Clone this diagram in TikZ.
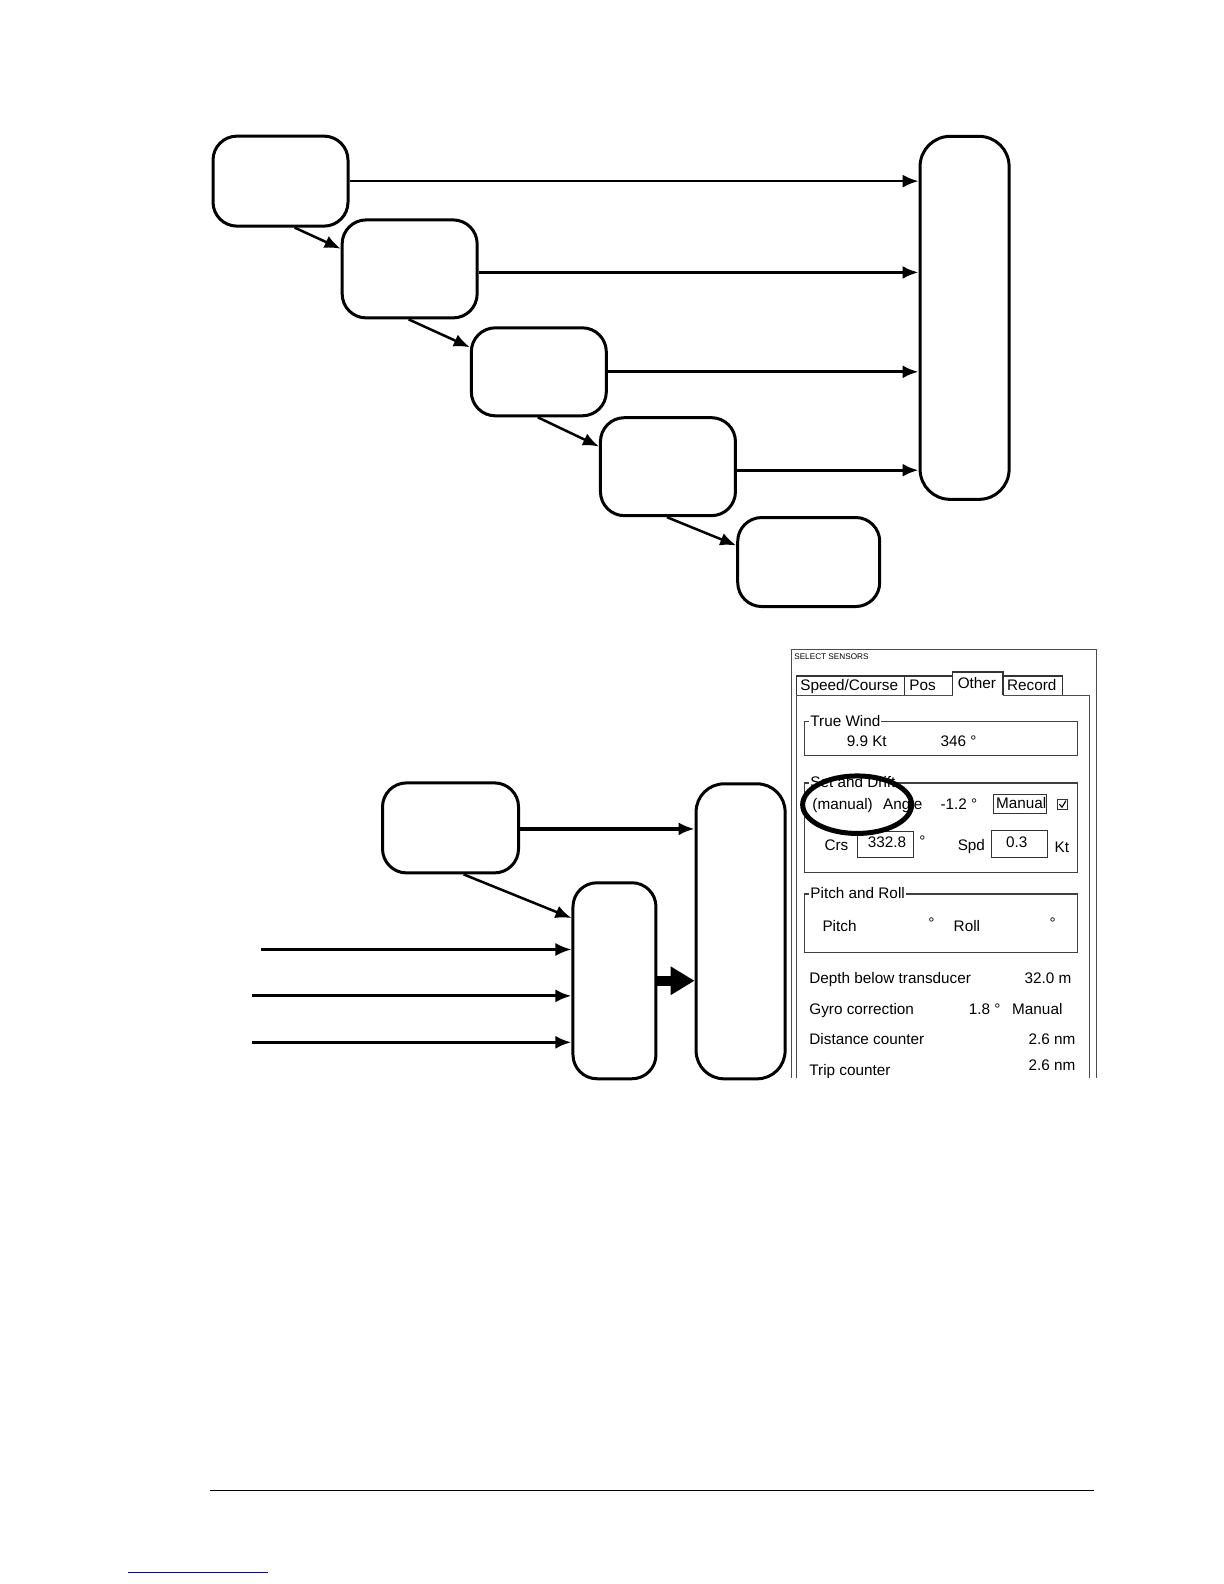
\documentclass[tikz,border=0pt]{standalone}
\usepackage{fontspec}
\newfontfamily\pf{Liberation Sans}
\usetikzlibrary{arrows.meta,calc}
\tikzset{
  rbox/.style={draw, line width=3pt, rounded corners=24pt, inner sep=0pt},
  arr/.style={line width=3.2pt, -{Latex[length=16pt,width=13pt]}},
  thinarr/.style={line width=2.5pt, -{Latex[length=16pt,width=13pt]}},
  bigarr/.style={line width=10pt, -{Triangle[length=24pt,width=27pt]}},
  ptxt/.style={font=\pf\fontsize{15.3}{18}\selectfont, inner sep=0pt, anchor=base west},
  ptxtr/.style={font=\pf\fontsize{15.3}{18}\selectfont, inner sep=0pt, anchor=base east},
  grp/.style={draw=black!75, line width=1.2pt},
  glabel/.style={font=\pf\fontsize{15.3}{18}\selectfont, inner sep=1pt, fill=white, anchor=base west},
  fld/.style={draw=black!80, line width=1.1pt},
}
\begin{document}
\begin{tikzpicture}[x=1.009pt,y=-1.009pt]
\useasboundingbox (0,0) rectangle (1213.08,1569.87);
\fill[white] (0,0) rectangle (1213.08,1569.87);

% ---------- upper chain ----------
\node[rbox, minimum width=135pt, minimum height=90pt] (b1) at (278,179.5) {};
\node[rbox, minimum width=135pt, minimum height=98pt] (b2) at (406,266.5) {};
\node[rbox, minimum width=135pt, minimum height=88pt] (b3) at (534,368.5) {};
\node[rbox, minimum width=135pt, minimum height=98pt] (b4) at (662,462.5) {};
\node[rbox, minimum width=142pt, minimum height=89pt] (b5) at (801.5,557) {};
\node[rbox, rounded corners=30pt, minimum width=89pt, minimum height=363pt] (r1) at (956,315) {};

\draw[thinarr] (b1.east) -- (r1.west |- b1.east);
\draw[arr] ($(b2.east)+(0,3.5)$) coordinate (e2) -- (r1.west |- e2);
\draw[arr] (b3.east) -- (r1.west |- b3.east);
\draw[arr] ($(b4.east)+(0,3.5)$) coordinate (e4) -- (r1.west |- e4);

\draw[thinarr] ($(b1.south)+(14,0)$) -- ($(b2.north west)!0.3!(b2.south west)$);
\draw[thinarr] ($(b2.south)+(-1,0)$) -- ($(b3.north west)!0.23!(b3.south west)$);
\draw[thinarr] ($(b3.south)+(-1,0)$) -- ($(b4.north west)!0.3!(b4.south west)$);
\draw[thinarr] ($(b4.south)+(-1,0)$) -- ($(b5.north west)!0.32!(b5.south west)$);

% ---------- lower diagram ----------
\node[rbox, minimum width=136pt, minimum height=90pt] (b6) at (446.5,820.5) {};
\node[rbox, rounded corners=24pt, minimum width=83pt, minimum height=196pt] (m1) at (609,972) {};
\node[rbox, rounded corners=28pt, minimum width=89pt, minimum height=295pt] (r2) at (734,923) {};

\draw[arr] ($(b6.east)+(0,1)$) coordinate (e6) -- (r2.west |- e6);
\draw[thinarr] ($(b6.south)+(13,0)$) -- ($(m1.north west)!0.185!(m1.south west)$);

\coordinate (s1) at (259,941);
\coordinate (s2) at (250,987);
\coordinate (s3) at (250,1033);
\draw[thinarr] (s1) -- (m1.west |- s1);
\draw[arr] (s2) -- (m1.west |- s2);
\draw[arr] (s3) -- (m1.west |- s3);
\draw[bigarr] (m1.east) -- (r2.west |- m1.east);

% ---------- screenshot panel ----------
\begin{scope}
\clip (780,640) rectangle (1095,1068);
\draw[black!70, line width=1.1pt] (784,1075) -- (784,644) -- (1087,644) -- (1087,1075);
\node[font=\pf\fontsize{8.2}{9}\selectfont, inner sep=0pt, anchor=base west] (title) at (787,654) {SELECT SENSORS};
% tab page
\draw[black!70, line width=1.1pt] (789,1075) -- (789,689) -- (944,689);
\draw[black!70, line width=1.1pt] (994,689) -- (1080,689) -- (1080,1075);
% tabs
\draw[black!80, line width=1.1pt] (789,689) -- (789,670) -- (896,670) -- (896,689);
\draw[black!80, line width=1.1pt] (896,670) -- (944,670) -- (944,689);
\draw[black!80, line width=1.1pt] (944,689) -- (944,666) -- (994,666) -- (994,689);
\draw[black!80, line width=1.1pt] (994,670) -- (1053,670) -- (1053,689);
\node[ptxt] (t1) at (793,684) {Speed/Course};
\node[ptxt] (t2) at (901,684) {Pos};
\node[ptxt] (t3) at (949,682) {Other};
\node[ptxt] (t4) at (998,684) {Record};

% True Wind
\draw[grp] (797,715) rectangle (1068,749);
\node[glabel] (tw) at (802,720.5) {True Wind};
\node[ptxt] (tw1) at (839,739.5) {9.9 Kt};
\node[ptxt] (tw2) at (932,739.5) {346 °};

% Set and Drift
\draw[grp] (797,776) rectangle (1068,865);
\node[glabel] (sd) at (802,780.5) {Set and Drift};
\node[ptxt] (sd1) at (805,802.5) {(manual)\hspace{0.4em} Angle};
\node[ptxt] (sd2) at (932,802.5) {-1.2 °};
\draw[fld] (985,787) rectangle (1037,806);
\node[ptxt] (sd3) at (987,801.5) {Manual};
\draw[black!80, line width=1pt] (1048,792) rectangle (1058,802);
\draw[black, line width=1.1pt] (1050,797) -- (1052.5,800) -- (1056.5,793.5);
\node[ptxt] (crs) at (817,842.5) {Crs};
\draw[fld] (850,824) rectangle (905,850);
\node[ptxt] (crsv) at (860,840) {332.8};
\node[ptxt] (deg1) at (911,839) {°};
\node[ptxt] (spd) at (949,842.5) {Spd};
\draw[fld] (983,823) rectangle (1038,850);
\node[ptxt] (spdv) at (997,840) {0.3};
\node[ptxt] (kt) at (1045,844.5) {Kt};

% Pitch and Roll
\draw[grp] (797,886) rectangle (1068,944);
\node[glabel] (pr) at (802,890.5) {Pitch and Roll};
\node[ptxt] (p1) at (815,923.5) {Pitch};
\node[ptxt] (p2) at (920,920) {°};
\node[ptxt] (p3) at (945,923.5) {Roll};
\node[ptxt] (p4) at (1040,920) {°};

% list
\node[ptxt] (l1) at (802,974.5) {Depth below transducer};
\node[ptxtr] (v1) at (1062,974.5) {32.0 m};
\node[ptxt] (l2) at (802,1005.5) {Gyro correction};
\node[ptxt] (v2a) at (960,1005.5) {1.8 °};
\node[ptxt] (v2b) at (1003,1005.5) {Manual};
\node[ptxt] (l3) at (802,1035.5) {Distance counter};
\node[ptxtr] (v3) at (1066,1035.5) {2.6 nm};
\node[ptxt] (l4) at (802,1065.5) {Trip counter};
\node[ptxtr] (v4) at (1066,1060.5) {2.6 nm};

% highlight ellipse
\draw[black, line width=5pt] (849.5,797.5) ellipse [x radius=54, y radius=28.5];
\end{scope}

% ---------- footer ----------
\draw[line width=1.6pt] (208,1477) -- (1084,1477);
\draw[blue!70!black, line width=0.8pt] (127,1558) -- (266,1558);
\end{tikzpicture}
\end{document}
